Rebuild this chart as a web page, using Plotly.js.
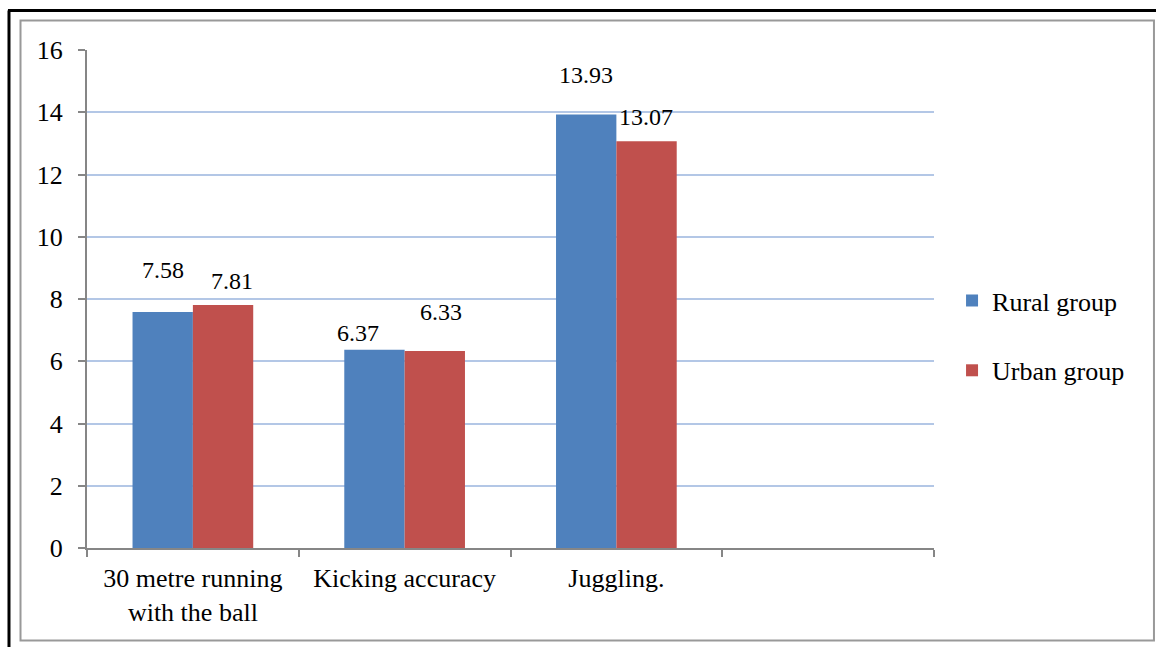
<!DOCTYPE html>
<html>
<head>
<meta charset="utf-8">
<script src="https://cdn.plot.ly/plotly-3.0.1.min.js"></script>
<style>html,body{margin:0;padding:0;background:#fff;}#chart{width:1156px;height:647px;}</style>
</head>
<body>
<div id="chart"></div>
<script>
const categories = ["30 metre running<br>with the ball", "Kicking accuracy", "Juggling.", " "];
const rural = [7.58, 6.37, 13.93, null];
const urban = [7.81, 6.33, 13.07, null];
const ruralLabels = ["7.58", "6.37", "13.93"];
const urbanLabels = ["7.81", "6.33", "13.07"];
const yTicks = [0, 2, 4, 6, 8, 10, 12, 14, 16];

// label offsets (pixels) mimicking the manually placed labels in the original
const ruralShift = [[0, 42], [-17, 17], [0, 39]];
const urbanShift = [[9, 24], [6, 39], [0, 24]];

const font = "Liberation Serif";

const traces = [
  {type: "bar", name: "Rural group", x: categories, y: rural, marker: {color: "#4f81bd"}, legendgroup: "a"},
  {type: "bar", name: "Urban group", x: categories, y: urban, marker: {color: "#c0504d"}, legendgroup: "b"}
];

const annotations = [];
for (let i = 0; i < ruralLabels.length; i++) {
  annotations.push({x: categories[i], y: rural[i], text: ruralLabels[i], showarrow: false,
    xref: "x", yref: "y", xshift: -30 + ruralShift[i][0], yshift: ruralShift[i][1],
    font: {family: font, size: 24, color: "#000"}});
  annotations.push({x: categories[i], y: urban[i], text: urbanLabels[i], showarrow: false,
    xref: "x", yref: "y", xshift: 30 + urbanShift[i][0], yshift: urbanShift[i][1],
    font: {family: font, size: 24, color: "#000"}});
}

const layout = {
  width: 1156, height: 647,
  margin: {l: 87, r: 222, t: 50, b: 99},
  paper_bgcolor: "#fff", plot_bgcolor: "#fff",
  font: {family: font, size: 26, color: "#000"},
  barmode: "group", bargap: 0.43, bargroupgap: 0,
  showlegend: true,
  legend: {x: 1.0213, y: 0.544, xanchor: "left", yanchor: "top", tracegroupgap: 33,
    font: {family: font, size: 26, color: "#000"}, bgcolor: "rgba(0,0,0,0)"},
  xaxis: {type: "category", categoryarray: categories, showgrid: false, showline: true,
    linecolor: "#868686", linewidth: 2, ticks: "outside", tickson: "boundaries",
    ticklen: 7, tickcolor: "#868686", tickwidth: 2, tickfont: {family: font, size: 26},
    ticklabelstandoff: 6, range: [-0.5, 3.5], fixedrange: true},
  yaxis: {range: [0, 16], tickvals: yTicks, ticktext: yTicks.map(String), showgrid: true,
    gridcolor: "#b3c7e6", gridwidth: 2, showline: true, linecolor: "#868686", linewidth: 2,
    ticks: "outside", ticklen: 7, tickcolor: "#868686", tickwidth: 2, zeroline: false,
    tickfont: {family: font, size: 26}, ticklabelstandoff: 10},
  annotations: annotations,
  shapes: [
    {type: "rect", xref: "paper", yref: "paper", x0: -0.0785, x1: 1.2597, y0: -0.1857, y1: 1.0592,
      line: {color: "#999999", width: 2}, layer: "below"},
    {type: "line", xref: "paper", yref: "paper", x0: -0.0933, x1: 1.27, y0: 1.0793, y1: 1.0793,
      line: {color: "#000", width: 3}},
    {type: "line", xref: "paper", yref: "paper", x0: -0.0921, x1: -0.0921, y0: 1.0793, y1: -0.21,
      line: {color: "#000", width: 3}}
  ]
};

Plotly.newPlot("chart", traces, layout, {displayModeBar: false, staticPlot: true});
</script>
</body>
</html>
